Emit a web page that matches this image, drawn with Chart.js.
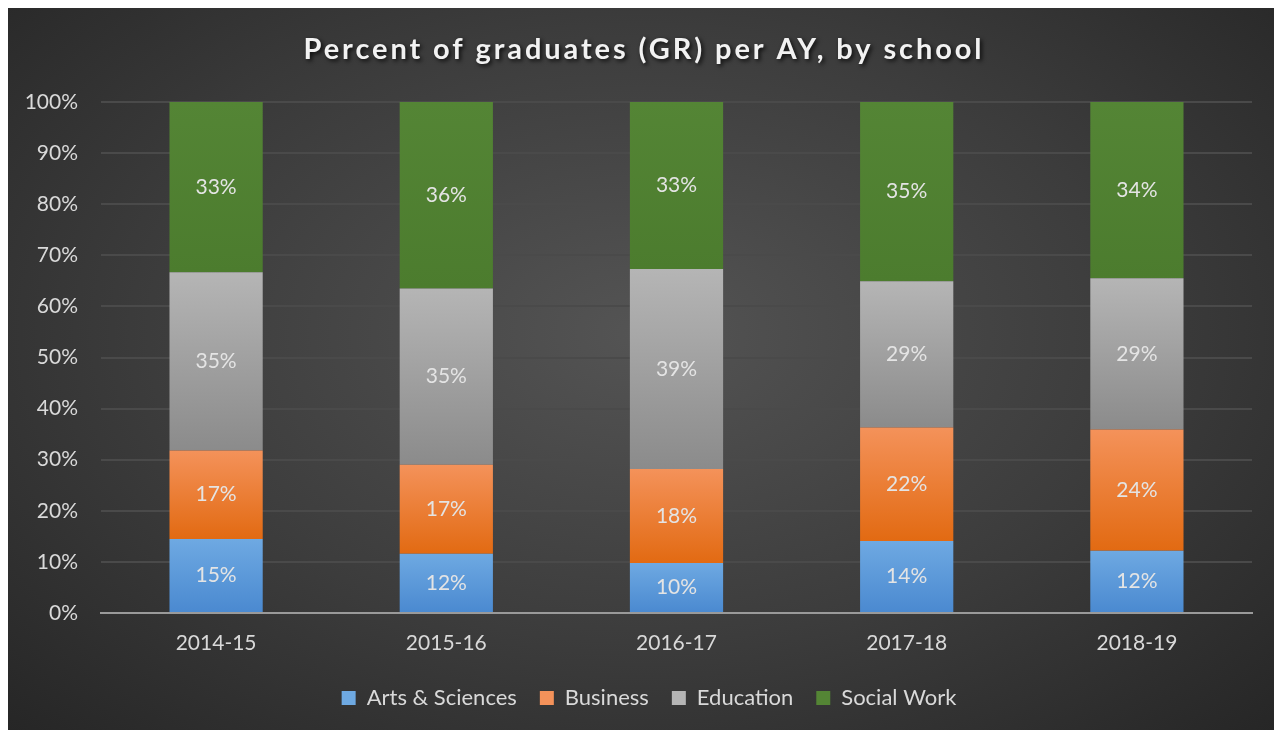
<!DOCTYPE html>
<html>
<head>
<meta charset="utf-8">
<script src="https://cdn.jsdelivr.net/npm/chart.js@4"></script>
<style>
    html, body { margin: 0; padding: 0; background: #fff; }
    #caixa {
        position: absolute; left: 8px; top: 8px; width: 1266px; height: 722px;
        background: radial-gradient(ellipse at 50% 45%, #545454 0%, #3c3c3c 55%, #262626 100%);
    }
    #grafico { display: block; }
</style>
</head>
<body>
<div id="caixa"><canvas id="grafico" width="1266" height="722"></canvas></div>
<script>
// dados
const anos = ['2014-15', '2015-16', '2016-17', '2017-18', '2018-19']
const escolas = ['Arts & Sciences', 'Business', 'Education', 'Social Work']
const artes = [14.5, 11.6, 9.8, 14.1, 12.2]
const negocios = [17.3, 17.4, 18.4, 22.2, 23.7]
const educacao = [34.9, 34.5, 39.1, 28.6, 29.6]
const social = [33.3, 36.5, 32.7, 35.1, 34.5]
const rotulos = [
    ['15%', '12%', '10%', '14%', '12%'],
    ['17%', '17%', '18%', '22%', '24%'],
    ['35%', '35%', '39%', '29%', '29%'],
    ['33%', '36%', '33%', '35%', '34%']
]
const eixoY = ['0%', '10%', '20%', '30%', '40%', '50%', '60%', '70%', '80%', '90%', '100%']
const titulo = 'Percent of graduates (GR) per AY, by school'

const series = [artes, negocios, educacao, social]
const cores = [
    ['#6ea9e2', '#4a89d0'],
    ['#f4925a', '#e26a12'],
    ['#b5b5b5', '#8b8b8b'],
    ['#548535', '#4c7c2e']
]
const fonte = 'Lato, "Open Sans", sans-serif'

function gradiente(ds) {
    return (c) => {
        const chart = c.chart
        const y = chart.scales.y
        if (!chart.chartArea || !y || c.dataIndex === undefined) return cores[ds][0]
        let base = 0
        for (let k = 0; k < ds; k++) base += series[k][c.dataIndex]
        const topo = base + series[ds][c.dataIndex]
        const y0 = y.getPixelForValue(base)
        const y1 = y.getPixelForValue(topo)
        const g = chart.ctx.createLinearGradient(0, y1, 0, y0)
        g.addColorStop(0, cores[ds][0])
        g.addColorStop(1, cores[ds][1])
        return g
    }
}

const rotuloPlugin = {
    id: 'rotulos',
    afterDatasetsDraw(chart) {
        const ctx = chart.ctx
        ctx.save()
        ctx.font = '21px ' + fonte
        ctx.fillStyle = '#e4e4e4'
        ctx.textAlign = 'center'
        ctx.textBaseline = 'middle'
        chart.data.datasets.forEach((d, i) => {
            chart.getDatasetMeta(i).data.forEach((bar, j) => {
                ctx.fillText(rotulos[i][j], bar.x, (bar.y + bar.base) / 2)
            })
        })
        ctx.restore()
    }
}

const tituloPlugin = {
    id: 'tituloManual',
    afterDraw(chart) {
        const ctx = chart.ctx
        ctx.save()
        ctx.font = 'bold 29px ' + fonte
        ctx.letterSpacing = '2.9px'
        ctx.textAlign = 'center'
        ctx.textBaseline = 'middle'
        ctx.shadowColor = 'rgba(0,0,0,0.8)'
        ctx.shadowBlur = 4
        ctx.shadowOffsetX = 2
        ctx.shadowOffsetY = 2
        ctx.fillStyle = '#f2f2f2'
        ctx.fillText(titulo, 636, 42)
        ctx.restore()
    }
}

const ctx = document.getElementById('grafico')

myChart = new Chart(ctx, {
    type: 'bar',
    data: {
        labels: anos,
        datasets: series.map((s, i) => ({
            label: escolas[i],
            data: s,
            backgroundColor: gradiente(i),
            borderWidth: 0,
            barPercentage: 0.405,
            categoryPercentage: 1
        }))
    },
    options: {
        responsive: false,
        animation: false,
        layout: { padding: { top: 94, right: 0, left: 16, bottom: 11 } },
        plugins: {
            title: { display: false },
            tooltip: { enabled: false },
            legend: {
                position: 'bottom',
                labels: {
                    color: '#d9d9d9',
                    font: { size: 22, family: fonte },
                    boxWidth: 14,
                    boxHeight: 14,
                    padding: 23,
                    generateLabels: (chart) => escolas.map((e, i) => ({
                        text: e,
                        fillStyle: cores[i][0],
                        strokeStyle: cores[i][0],
                        lineWidth: 0,
                        datasetIndex: i,
                        fontColor: '#d9d9d9'
                    }))
                }
            }
        },
        scales: {
            x: {
                stacked: true,
                afterFit: (s) => { s.height = 51 },
                grid: { display: false },
                border: { color: '#9a9a9a', width: 2 },
                ticks: { color: '#d9d9d9', font: { size: 21, family: fonte }, padding: 10 }
            },
            y: {
                stacked: true,
                min: 0,
                max: 100,
                afterFit: (s) => { s.width = 77 },
                grid: { color: '#4a4a4a', lineWidth: 2, drawTicks: false },
                border: { display: false },
                ticks: {
                    stepSize: 10,
                    color: '#d9d9d9',
                    font: { size: 21, family: fonte },
                    padding: 23,
                    callback: (v) => eixoY[Math.round(v / 10)]
                }
            },
            margem: {
                position: 'right',
                afterFit: (s) => { s.width = 22 },
                grid: { display: false },
                border: { display: false },
                ticks: { display: false }
            }
        }
    },
    plugins: [rotuloPlugin, tituloPlugin]
})
</script>
</body>
</html>
